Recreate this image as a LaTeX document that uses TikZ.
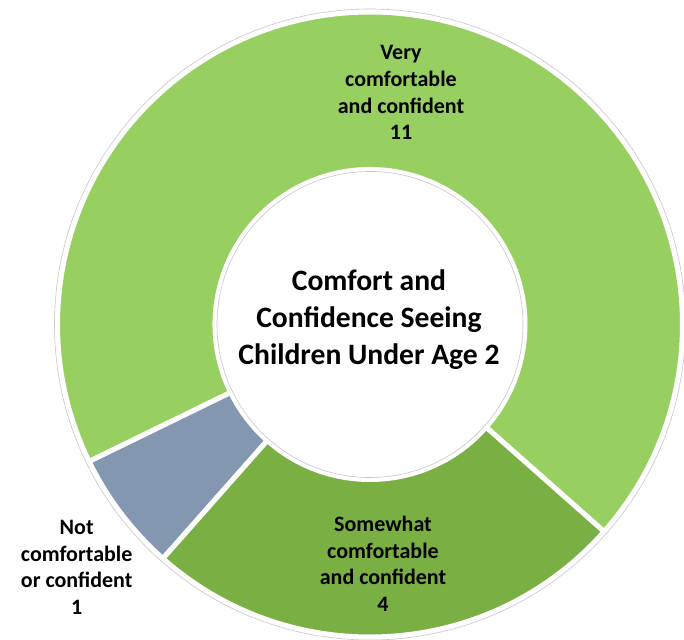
\documentclass[tikz,border=0pt]{standalone}
\usepackage{fontspec}
\setmainfont{Carlito}
\usepackage{xcolor}
\definecolor{verycolor}{RGB}{151, 207, 97}
\definecolor{somecolor}{RGB}{122, 176, 67}
\definecolor{notcolor}{RGB}{132, 151, 176}

\begin{document}
\begin{tikzpicture}[
    x=1pt, y=1pt,
    slice/.style={draw=white, line width=5pt},
    rim/.style={draw=black!22, line width=0.6pt},
    slicelabel/.style={font=\bfseries\fontsize{22}{26.7}\selectfont, align=center, inner sep=0pt},
    centertitle/.style={font=\bfseries\fontsize{29.6}{36.7}\selectfont, align=center, inner sep=0pt}
]
    \useasboundingbox (-370, -314.5) rectangle (314, 324.5);

    % Donut slices
    \foreach \from/\to/\col in {-41.5/206/verycolor, 206/228.5/notcolor, 228.5/318.5/somecolor}
        \filldraw[slice, fill=\col] (\from:312.5) arc (\from:\to:312.5) -- (\to:155) arc (\to:\from:155) -- cycle;

    % Outlines
    \draw[rim] (0, 0) circle (315.5);
    \draw[rim] (0, 0) circle (153);

    % Title
    \node[centertitle] (title) at (-1, 5) {Comfort and\\Confidence Seeing\\Children Under Age 2};

    % Labels
    \node[slicelabel] (very) at (31, 231.7) {Very\\comfortable\\and confident\\11};
    \node[slicelabel] (some) at (13, -239.3) {Somewhat\\comfortable\\and confident\\4};
    \node[slicelabel] (not) at (-293.3, -243) {Not\\comfortable\\or confident\\1};

\end{tikzpicture}
\end{document}
